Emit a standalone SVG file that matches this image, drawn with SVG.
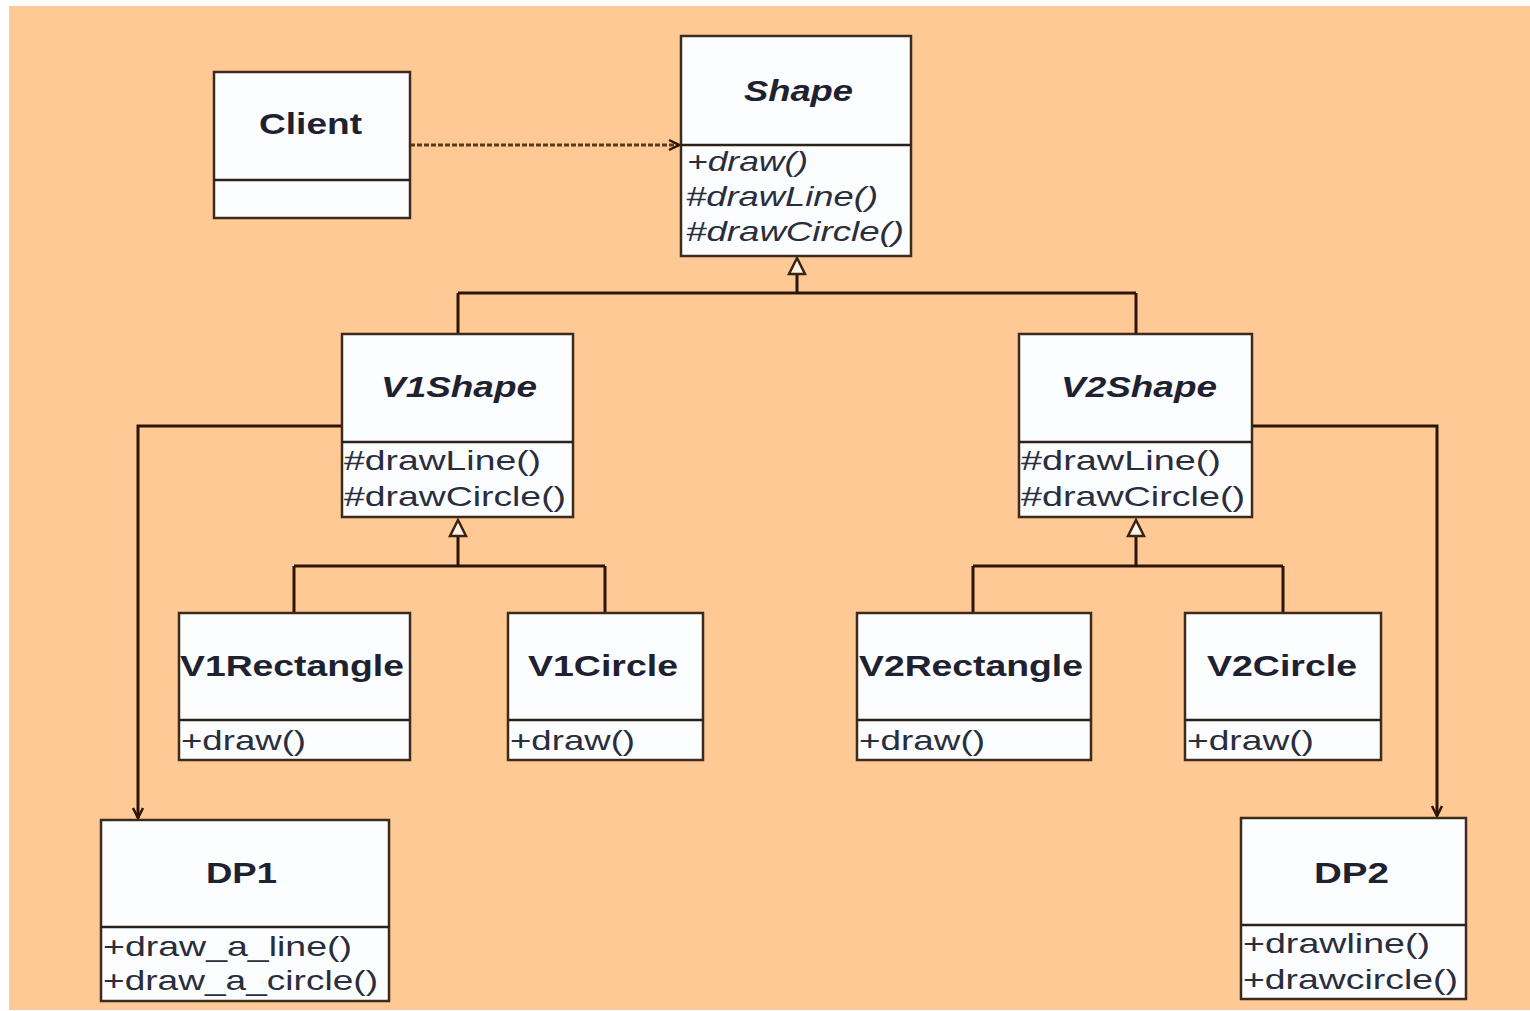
<svg xmlns="http://www.w3.org/2000/svg" width="1530" height="1011" viewBox="0 0 1530 1011">
  <style>
    .box { fill: #fcfdff; stroke: #3d2c1c; stroke-width: 2.5; }
    .div { stroke: #2e2218; stroke-width: 2.5; }
    .title { font-family: "Liberation Sans", Arial, sans-serif; font-weight: bold; font-size: 30px; fill: #1e2230; }
    .ital { font-style: italic; }
    .meth { font-family: "Liberation Sans", Arial, sans-serif; font-size: 28px; fill: #2a2e3c; }
    .wire { fill: none; stroke: #2a1506; stroke-width: 3; }
    .dash { fill: none; stroke: #5a3a1c; stroke-width: 3; stroke-dasharray: 5 2; }
    .tri { fill: #fdf3e6; stroke: #3a2410; stroke-width: 2.5; }
  </style>
  <defs>
    <marker id="open" markerWidth="14" markerHeight="14" refX="12" refY="7" orient="auto" markerUnits="userSpaceOnUse">
      <path d="M2,2 L12,7 L2,12" fill="none" stroke="#2a1506" stroke-width="2.5"/>
    </marker>
  </defs>

  <!-- canvas -->
  <rect x="0" y="0" width="1530" height="1011" fill="#ffffff"/>
  <rect x="9" y="6" width="1521" height="1004" fill="#fec994"/>

  <g id="connectors">
    <!-- Client uses Shape -->
    <path class="dash" d="M410,145 L679,145" marker-end="url(#open)"/>
    <!-- Shape generalization -->
    <path class="wire" d="M797,274 L797,293 M458,293 L1136,293 M458,293 L458,334 M1136,293 L1136,334"/>
    <polygon class="tri" points="797,258 789,274 805,274"/>
    <!-- V1Shape generalization -->
    <path class="wire" d="M458,536 L458,566 M294,566 L605,566 M294,566 L294,613 M605,566 L605,613"/>
    <polygon class="tri" points="458,520 450,536 466,536"/>
    <!-- V2Shape generalization -->
    <path class="wire" d="M1136,536 L1136,566 M973,566 L1283,566 M973,566 L973,613 M1283,566 L1283,613"/>
    <polygon class="tri" points="1136,520 1128,536 1144,536"/>
    <!-- implementors -->
    <path class="wire" d="M342,426 L138,426 L138,818" marker-end="url(#open)"/>
    <path class="wire" d="M1252,426 L1437,426 L1437,816" marker-end="url(#open)"/>
  </g>

  <g id="client">
    <rect class="box" x="214" y="72" width="196" height="146"/>
    <line class="div" x1="214" y1="180" x2="410" y2="180"/>
    <text class="title" x="259" y="134" textLength="103" lengthAdjust="spacingAndGlyphs">Client</text>
  </g>

  <g id="shape">
    <rect class="box" x="681" y="36" width="230" height="220"/>
    <line class="div" x1="681" y1="145" x2="911" y2="145"/>
    <text class="title ital" x="744" y="101" textLength="109" lengthAdjust="spacingAndGlyphs">Shape</text>
    <text class="meth ital" x="687" y="171" textLength="121" lengthAdjust="spacingAndGlyphs">+draw()</text>
    <text class="meth ital" x="686" y="206" textLength="192" lengthAdjust="spacingAndGlyphs">#drawLine()</text>
    <text class="meth ital" x="686" y="241" textLength="218" lengthAdjust="spacingAndGlyphs">#drawCircle()</text>
  </g>

  <g id="v1shape">
    <rect class="box" x="342" y="334" width="231" height="183"/>
    <line class="div" x1="342" y1="442" x2="573" y2="442"/>
    <text class="title ital" x="381" y="397" textLength="156" lengthAdjust="spacingAndGlyphs">V1Shape</text>
    <text class="meth" x="344" y="470" textLength="197" lengthAdjust="spacingAndGlyphs">#drawLine()</text>
    <text class="meth" x="344" y="506" textLength="222" lengthAdjust="spacingAndGlyphs">#drawCircle()</text>
  </g>

  <g id="v2shape">
    <rect class="box" x="1019" y="334" width="233" height="183"/>
    <line class="div" x1="1019" y1="442" x2="1252" y2="442"/>
    <text class="title ital" x="1061" y="397" textLength="156" lengthAdjust="spacingAndGlyphs">V2Shape</text>
    <text class="meth" x="1021" y="470" textLength="200" lengthAdjust="spacingAndGlyphs">#drawLine()</text>
    <text class="meth" x="1021" y="506" textLength="224" lengthAdjust="spacingAndGlyphs">#drawCircle()</text>
  </g>

  <g id="v1rectangle">
    <rect class="box" x="179" y="613" width="231" height="147"/>
    <line class="div" x1="179" y1="720" x2="410" y2="720"/>
    <text class="title" x="180" y="676" textLength="224" lengthAdjust="spacingAndGlyphs">V1Rectangle</text>
    <text class="meth" x="181" y="750" textLength="125" lengthAdjust="spacingAndGlyphs">+draw()</text>
  </g>

  <g id="v1circle">
    <rect class="box" x="508" y="613" width="195" height="147"/>
    <line class="div" x1="508" y1="720" x2="703" y2="720"/>
    <text class="title" x="528" y="676" textLength="150" lengthAdjust="spacingAndGlyphs">V1Circle</text>
    <text class="meth" x="510" y="750" textLength="125" lengthAdjust="spacingAndGlyphs">+draw()</text>
  </g>

  <g id="v2rectangle">
    <rect class="box" x="857" y="613" width="234" height="147"/>
    <line class="div" x1="857" y1="720" x2="1091" y2="720"/>
    <text class="title" x="859" y="676" textLength="224" lengthAdjust="spacingAndGlyphs">V2Rectangle</text>
    <text class="meth" x="859" y="750" textLength="126" lengthAdjust="spacingAndGlyphs">+draw()</text>
  </g>

  <g id="v2circle">
    <rect class="box" x="1185" y="613" width="196" height="147"/>
    <line class="div" x1="1185" y1="720" x2="1381" y2="720"/>
    <text class="title" x="1207" y="676" textLength="150" lengthAdjust="spacingAndGlyphs">V2Circle</text>
    <text class="meth" x="1187" y="750" textLength="127" lengthAdjust="spacingAndGlyphs">+draw()</text>
  </g>

  <g id="dp1">
    <rect class="box" x="101" y="820" width="288" height="181"/>
    <line class="div" x1="101" y1="927" x2="389" y2="927"/>
    <text class="title" x="206" y="883" textLength="71" lengthAdjust="spacingAndGlyphs">DP1</text>
    <text class="meth" x="103" y="956" textLength="249" lengthAdjust="spacingAndGlyphs">+draw_a_line()</text>
    <text class="meth" x="103" y="990" textLength="275" lengthAdjust="spacingAndGlyphs">+draw_a_circle()</text>
  </g>

  <g id="dp2">
    <rect class="box" x="1241" y="818" width="225" height="181"/>
    <line class="div" x1="1241" y1="925" x2="1466" y2="925"/>
    <text class="title" x="1314" y="883" textLength="75" lengthAdjust="spacingAndGlyphs">DP2</text>
    <text class="meth" x="1243" y="953" textLength="187" lengthAdjust="spacingAndGlyphs">+drawline()</text>
    <text class="meth" x="1243" y="989" textLength="215" lengthAdjust="spacingAndGlyphs">+drawcircle()</text>
  </g>
</svg>
